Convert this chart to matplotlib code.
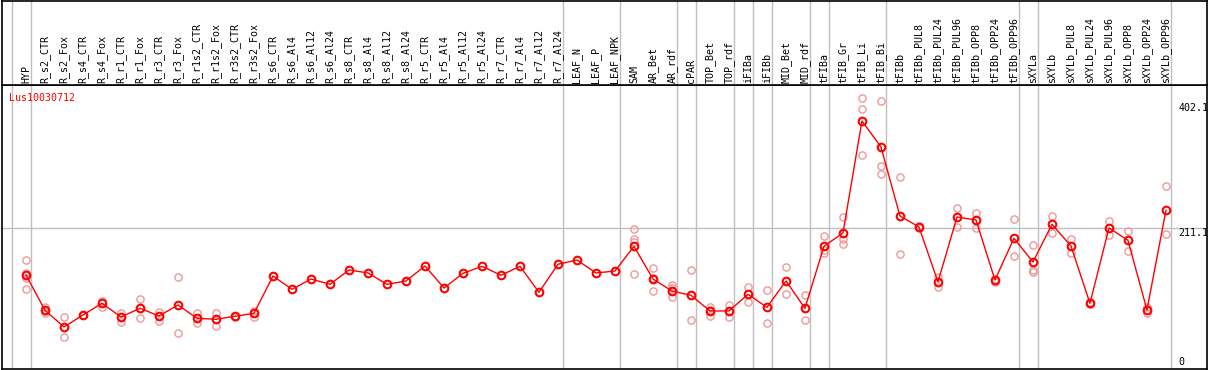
import matplotlib
matplotlib.use("Agg")
import matplotlib.pyplot as plt
import numpy as np

# sample names (one column each)
samples = ['HYP',
           'R_s2_CTR', 'R_s2_Fox', 'R_s4_CTR', 'R_s4_Fox', 'R_r1_CTR', 'R_r1_Fox',
           'R_r3_CTR', 'R_r3_Fox', 'R_r1s2_CTR', 'R_r1s2_Fox', 'R_r3s2_CTR', 'R_r3s2_Fox',
           'R_s6_CTR', 'R_s6_Al4', 'R_s6_Al12', 'R_s6_Al24', 'R_s8_CTR', 'R_s8_Al4',
           'R_s8_Al12', 'R_s8_Al24', 'R_r5_CTR', 'R_r5_Al4', 'R_r5_Al12', 'R_r5_Al24',
           'R_r7_CTR', 'R_r7_Al4', 'R_r7_Al12', 'R_r7_Al24',
           'LEAF_N', 'LEAF_P', 'LEAF_NPK',
           'SAM', 'AR_Bet', 'AR_rdf',
           'cPAR',
           'TOP_Bet', 'TOP_rdf',
           'iFIBa',
           'iFIBb',
           'MID_Bet', 'MID_rdf',
           'tFIBa',
           'tFIB_Gr', 'tFIB_Li', 'tFIB_Bi',
           'tFIBb', 'tFIBb_PUL8', 'tFIBb_PUL24', 'tFIBb_PUL96', 'tFIBb_OPP8',
           'tFIBb_OPP24', 'tFIBb_OPP96',
           'sXYLa',
           'sXYLb', 'sXYLb_PUL8', 'sXYLb_PUL24', 'sXYLb_PUL96', 'sXYLb_OPP8',
           'sXYLb_OPP24', 'sXYLb_OPP96']

# number of samples in each tissue group (gray separators between groups)
group_sizes = [1, 28, 3, 3, 1, 2, 1, 1, 2, 1, 3, 7, 1, 7]

# mean expression per sample
means = [139.9,
         86.1, 60.7, 79.0, 96.8, 75.9, 89.2, 77.4, 94.2, 73.9, 72.4, 77.0, 81.5,
         138.4, 118.1, 133.8, 125.7, 147.6, 143.0, 125.7, 130.8, 153.7, 120.1,
         142.5, 153.2, 139.5, 153.2, 113.6, 156.3,
         162.8, 143.0, 146.0,
         183.7, 133.8, 115.5,
         109.0,
         85.1, 85.1,
         110.5,
         90.7,
         130.8, 89.2,
         183.7,
         204.0, 374.7, 335.1,
         229.9, 213.1, 129.3, 228.4, 223.8, 132.3, 195.9,
         159.8,
         217.2, 184.1, 96.8, 211.6, 192.8, 86.6, 238.6]

# individual replicates
replicates = [[162.8, 143.4, 134.9, 118.6],
              [91.6, 85.0, 82.5], [75.4, 45.0], [79.0], [100.8, 91.6], [81.5, 68.3],
              [103.4, 73.9], [83.5, 70.3], [136.9, 51.5], [82.0, 66.3], [82.0, 62.7],
              [78.0, 76.0], [85.5, 76.4],
              [], [], [], [], [], [], [], [], [], [], [], [], [], [], [], [],
              [], [], [],
              [210.1, 194.8, 189.8, 141.0], [150.2, 136.0, 115.1], [124.7, 119.6, 105.9],
              [147.6, 70.9],
              [90.7, 86.6, 77.9], [94.2, 85.1, 75.5],
              [121.6, 110.5, 98.3],
              [117.1, 66.8],
              [151.7, 110.5], [109.5, 70.9],
              [199.4, 178.0, 173.9],
              [228.4, 194.8, 186.7], [409.3, 392.5, 322.9], [405.2, 306.1, 293.4],
              [288.9, 171.9], [215.0, 211.1], [137.4, 121.2], [242.1, 212.7],
              [234.9, 211.1], [134.3, 129.3], [225.3, 168.4],
              [185.2, 147.6, 145.0],
              [229.9, 204.4], [194.4, 173.0], [98.0, 96.0], [222.3, 201.4],
              [207.5, 176.1], [91.6, 82.5], [275.2, 202.4]]

scale_labels = ['402.1', '211.1', '0']
scale_values = [402.1, 211.1, 0]
gene = 'Lus10030712'

W, H = 1209, 370
fig = plt.figure(figsize=(W / 100, H / 100), dpi=100)

x = np.arange(len(samples))
xlim = (-1.263, 62.16)
grey = '#c0c0c0'
mono = 'DejaVu Sans Mono'

# main plot area
ax = fig.add_axes([2 / W, 1 / H, 1205 / W, 284 / H])
ax.set_xlim(*xlim)
ax.set_ylim(-3.4, 429.6)
ax.set_xticks([])
ax.set_yticks([])
for s in ax.spines.values():
    s.set_color('black')
    s.set_linewidth(1.2)

# header with sample names
hx = fig.add_axes([2 / W, 285 / H, 1205 / W, 84.5 / H])
hx.set_xlim(*xlim)
hx.set_ylim(0, 1)
hx.set_xticks([])
hx.set_yticks([])
for s in hx.spines.values():
    s.set_color('black')
    s.set_linewidth(1.2)

# group separators
bounds = np.concatenate([[-1], np.cumsum(group_sizes) - 1]) + 5 / 19
for b in bounds:
    ax.axvline(b, color=grey, lw=1, zorder=1)
    hx.axvline(b, color=grey, lw=1, zorder=1)

ax.axhline(scale_values[1], color=grey, lw=1, zorder=1)

for i, name in enumerate(samples):
    hx.text(i, 0.025, name, rotation=90, ha='center', va='bottom',
            fontsize=7.2, family=mono)

# replicates
for i, reps in enumerate(replicates):
    if len(reps) > 0:
        ax.plot([i] * len(reps), reps, 'o', ms=5.2, mfc='none', mec='#f09898',
                mew=1.0, zorder=2)

ax.plot(x, means, '-', color='red', lw=1, zorder=3)
ax.plot(x, means, 'o', ms=5.5, mfc='none', mec='red', mew=1.5, zorder=4)

for lab, v in zip(scale_labels, scale_values):
    if v == 0:
        ax.text(60.65, v, lab, ha='left', va='bottom', fontsize=7.2, family=mono)
    else:
        ax.text(60.65, v, lab, ha='left', va='top', fontsize=7.2, family=mono)

ax.text(0.006, 0.955, gene, transform=ax.transAxes, color='red',
        ha='left', va='center', fontsize=7.2, family=mono)

fig.savefig('out.png', dpi=100)
